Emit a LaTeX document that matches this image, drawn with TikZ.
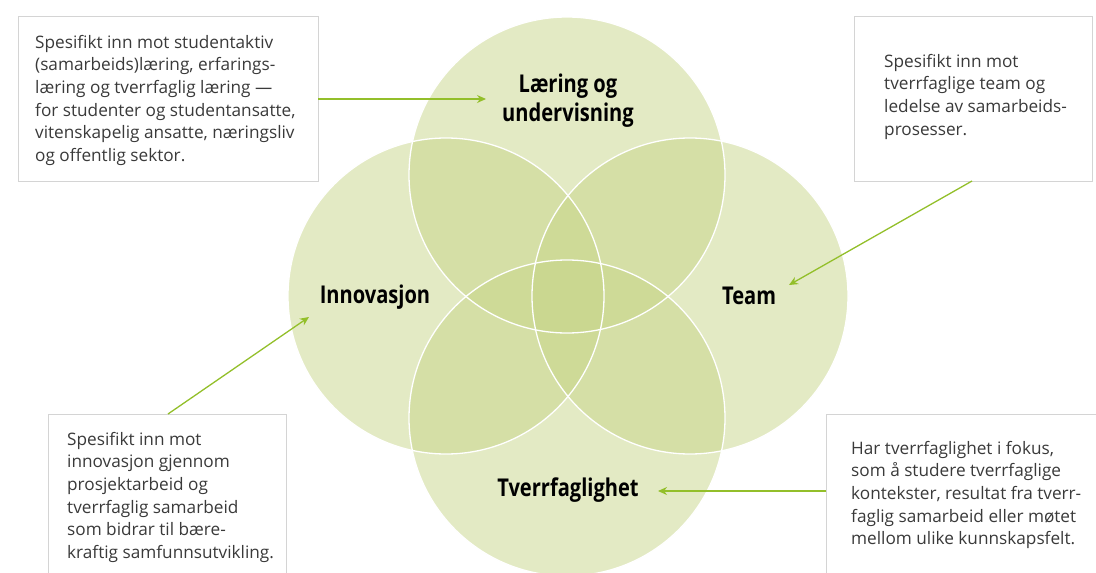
\documentclass[tikz,border=0pt]{standalone}
\usepackage{fontspec}
\setmainfont{Open Sans}
\newfontfamily\labelfont[FakeStretch=0.82]{Open Sans}
\usetikzlibrary{arrows.meta}
\definecolor{circfill}{HTML}{C7D589}
\definecolor{arrowgreen}{HTML}{93BF2A}
\definecolor{boxborder}{HTML}{D4D4D4}
\definecolor{txt}{HTML}{3A3A3A}
\tikzset{
  venn/.style={fill=circfill,fill opacity=0.5},
  vennline/.style={draw=white,line width=1.3pt},
  infobox/.style={draw=boxborder,line width=0.9pt,fill=white},
  infotext/.style={anchor=north west,align=left,text=txt,font=\fontsize{17.2}{22.6}\selectfont,inner sep=0pt},
  vlabel/.style={align=center,font=\labelfont\bfseries\fontsize{24.5}{29}\selectfont,text=black},
  pointer/.style={draw=arrowgreen,line width=1.3pt,-{Stealth[length=9pt,width=8pt]}},
}
\begin{document}
\begin{tikzpicture}[x=1pt,y=-1pt]
\useasboundingbox (0,0) rectangle (1096,573);
\clip (0,0) rectangle (1096,573);
% circles
\fill[venn] (567,175) circle (158);
\fill[venn] (446,296) circle (158);
\fill[venn] (690,296) circle (158);
\fill[venn] (567,418) circle (158);
\draw[vennline] (567,175) circle (158);
\draw[vennline] (446,296) circle (158);
\draw[vennline] (690,296) circle (158);
\draw[vennline] (567,418) circle (158);
% labels
\node[vlabel] (laering) at (568,101) {Læring og\\undervisning};
\node[vlabel] (innov) at (375,297) {Innovasjon};
\node[vlabel] (team) at (749,296) {Team};
\node[vlabel] (tverr) at (568,490) {Tverrfaglighet};
% boxes
\node[infobox,minimum width=300pt,minimum height=165pt,anchor=north west] (b1) at (18,16) {};
\node[infotext] (t1) at (35,35) {Spesifikt inn mot studentaktiv\\(samarbeids)læring, erfarings-\\læring og tverrfaglig læring —\\for studenter og studentansatte,\\vitenskapelig ansatte, næringsliv\\og offentlig sektor.};
\node[infobox,minimum width=238pt,minimum height=165pt,anchor=north west] (b2) at (854,16) {};
\node[infotext] (t2) at (884,54) {Spesifikt inn mot\\tverrfaglige team og\\ledelse av samarbeids-\\prosesser.};
\node[infobox,minimum width=238pt,minimum height=170pt,anchor=north west] (b3) at (48,414) {};
\node[infotext] (t3) at (67,432) {Spesifikt inn mot\\innovasjon gjennom\\prosjektarbeid og\\tverrfaglig samarbeid\\som bidrar til bære-\\kraftig samfunnsutvikling.};
\node[infobox,minimum width=290pt,minimum height=170pt,anchor=north west] (b4) at (826,414) {};
\node[infotext] (t4) at (851,441) {Har tverrfaglighet i fokus,\\som å studere tverrfaglige\\kontekster, resultat fra tverr-\\faglig samarbeid eller møtet\\mellom ulike kunnskapsfelt.};
% arrows
\coordinate (a1s) at (318,99);
\coordinate (a1e) at (486,99);
\coordinate (a2s) at (972,181);
\coordinate (a2e) at (789,285);
\coordinate (a3s) at (168,414);
\coordinate (a3e) at (309,317);
\coordinate (a4s) at (826,491);
\coordinate (a4e) at (658,491);
\draw[pointer] (a1s) -- (a1e);
\draw[pointer] (a2s) -- (a2e);
\draw[pointer] (a3s) -- (a3e);
\draw[pointer] (a4s) -- (a4e);
\end{tikzpicture}
\end{document}
